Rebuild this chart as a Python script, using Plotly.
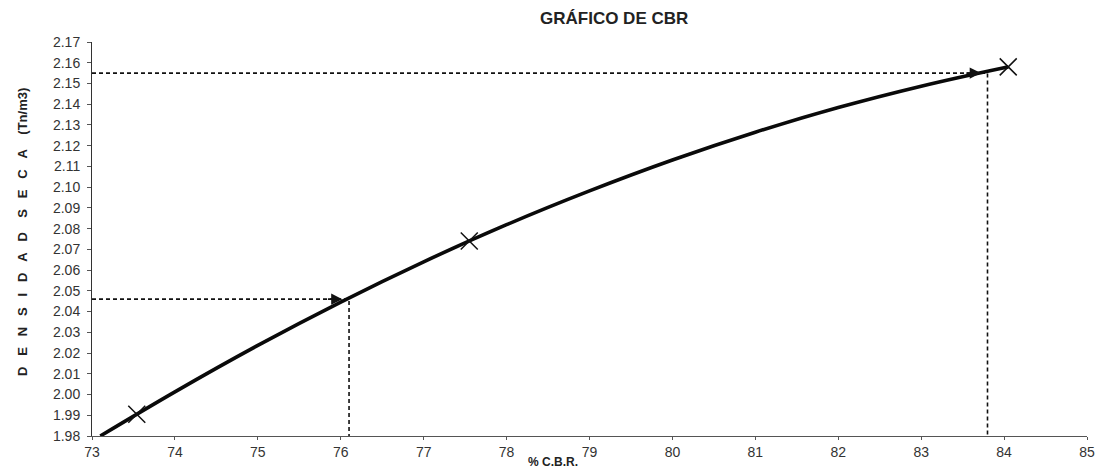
import plotly.graph_objects as go

# Curve (CBR vs dry density)
cbr_curve = [73.1, 74, 75, 76, 77, 78, 79, 80, 81, 82, 83, 84, 84.05]
dens_curve = [1.980, 2.0013, 2.0237, 2.0446, 2.0640, 2.0819, 2.0982, 2.1131,
              2.1265, 2.1384, 2.1487, 2.1576, 2.158]

# Test points (x markers)
cbr_pts = [73.54, 77.55, 84.05]
dens_pts = [1.9905, 2.074, 2.158]

# Reference read-offs (dashed guides)
cbr_ref = [76.1, 83.8]
dens_ref = [2.046, 2.155]

x_ticks = list(range(73, 86))
y_ticks = [round(1.98 + 0.01 * i, 2) for i in range(20)]

X0, Y0 = 73, 1.98
OFF = 8  # default page body margin
W, H = 1099, 464
ML, MR, MT, MB = 84, 14, 34, 35
PW, PH = W - ML - MR, H - MT - MB
FONT = "Liberation Sans, Arial"

fig = go.Figure()

# dashed guide lines
for cx, dy in zip(cbr_ref, dens_ref):
    fig.add_trace(go.Scatter(x=[X0, cx, cx], y=[dy, dy, Y0], mode="lines",
                             line=dict(color="#111", width=1.6, dash="4px,3px"),
                             hoverinfo="skip", showlegend=False, cliponaxis=False))

fig.add_trace(go.Scatter(x=cbr_curve, y=dens_curve, mode="lines",
                         line=dict(color="#0a0a0a", width=3.6, shape="spline"),
                         showlegend=False, cliponaxis=False))

fig.add_trace(go.Scatter(x=cbr_pts, y=dens_pts, mode="markers",
                         marker=dict(symbol="x-thin-open", size=17, color="#111",
                                     line=dict(color="#111", width=1.5)),
                         showlegend=False, cliponaxis=False))

annotations = []
for cx, dy in zip(cbr_ref, dens_ref):
    annotations.append(dict(x=cx - 0.08, y=dy, xref="x", yref="y", ax=-16, ay=0,
                            showarrow=True, arrowhead=2, arrowsize=1.4,
                            arrowwidth=1.6, arrowcolor="#111", text=""))


def px_x(p):
    return (p - OFF - ML) / PW


def px_y(p):
    return (H - MB - (p - OFF)) / PH


def spaced(word, gap="&nbsp;&nbsp;&nbsp;"):
    return gap.join(word)


ytitle = ("<b>" + spaced("DENSIDAD") + "&nbsp;" * 4 + spaced("SECA") + "&nbsp;" * 4
          + "(Tn/m3)</b>")

annotations.append(dict(text="<b>GRÁFICO DE CBR</b>", x=px_x(617), y=px_y(18),
                        xref="paper", yref="paper", showarrow=False,
                        font=dict(family=FONT, size=17, color="#222"),
                        xanchor="center", yanchor="middle"))
annotations.append(dict(text=ytitle,
                        x=px_x(22), y=px_y(232), xref="paper", yref="paper",
                        showarrow=False, textangle=-90,
                        font=dict(family=FONT, size=13, color="#222"),
                        xanchor="center", yanchor="middle"))
annotations.append(dict(text="<b>% C.B.R.</b>", x=px_x(556), y=px_y(471),
                        xref="paper", yref="paper", showarrow=False,
                        font=dict(family=FONT, size=12, color="#222"),
                        xanchor="center", yanchor="bottom", borderpad=0))

fig.update_layout(
    width=W, height=H,
    margin=dict(l=ML, r=MR, t=MT, b=MB),
    paper_bgcolor="white", plot_bgcolor="white",
    font=dict(family=FONT, size=12, color="#333"),
    annotations=annotations,
)
fig.update_xaxes(range=[73, 85], tickvals=x_ticks, showgrid=False, zeroline=False,
                 showline=True, linecolor="#555", linewidth=1,
                 ticks="outside", ticklen=3, tickcolor="#555",
                 tickfont=dict(size=14, color="#333"))
fig.update_yaxes(range=[1.98, 2.17], tickvals=y_ticks, tickformat=".2f",
                 showgrid=False, zeroline=False,
                 showline=True, linecolor="#333", linewidth=1,
                 ticks="outside", ticklen=4, tickcolor="#555",
                 ticklabelstandoff=4,
                 tickfont=dict(size=14, color="#333"))

fig.write_html("out.html")
